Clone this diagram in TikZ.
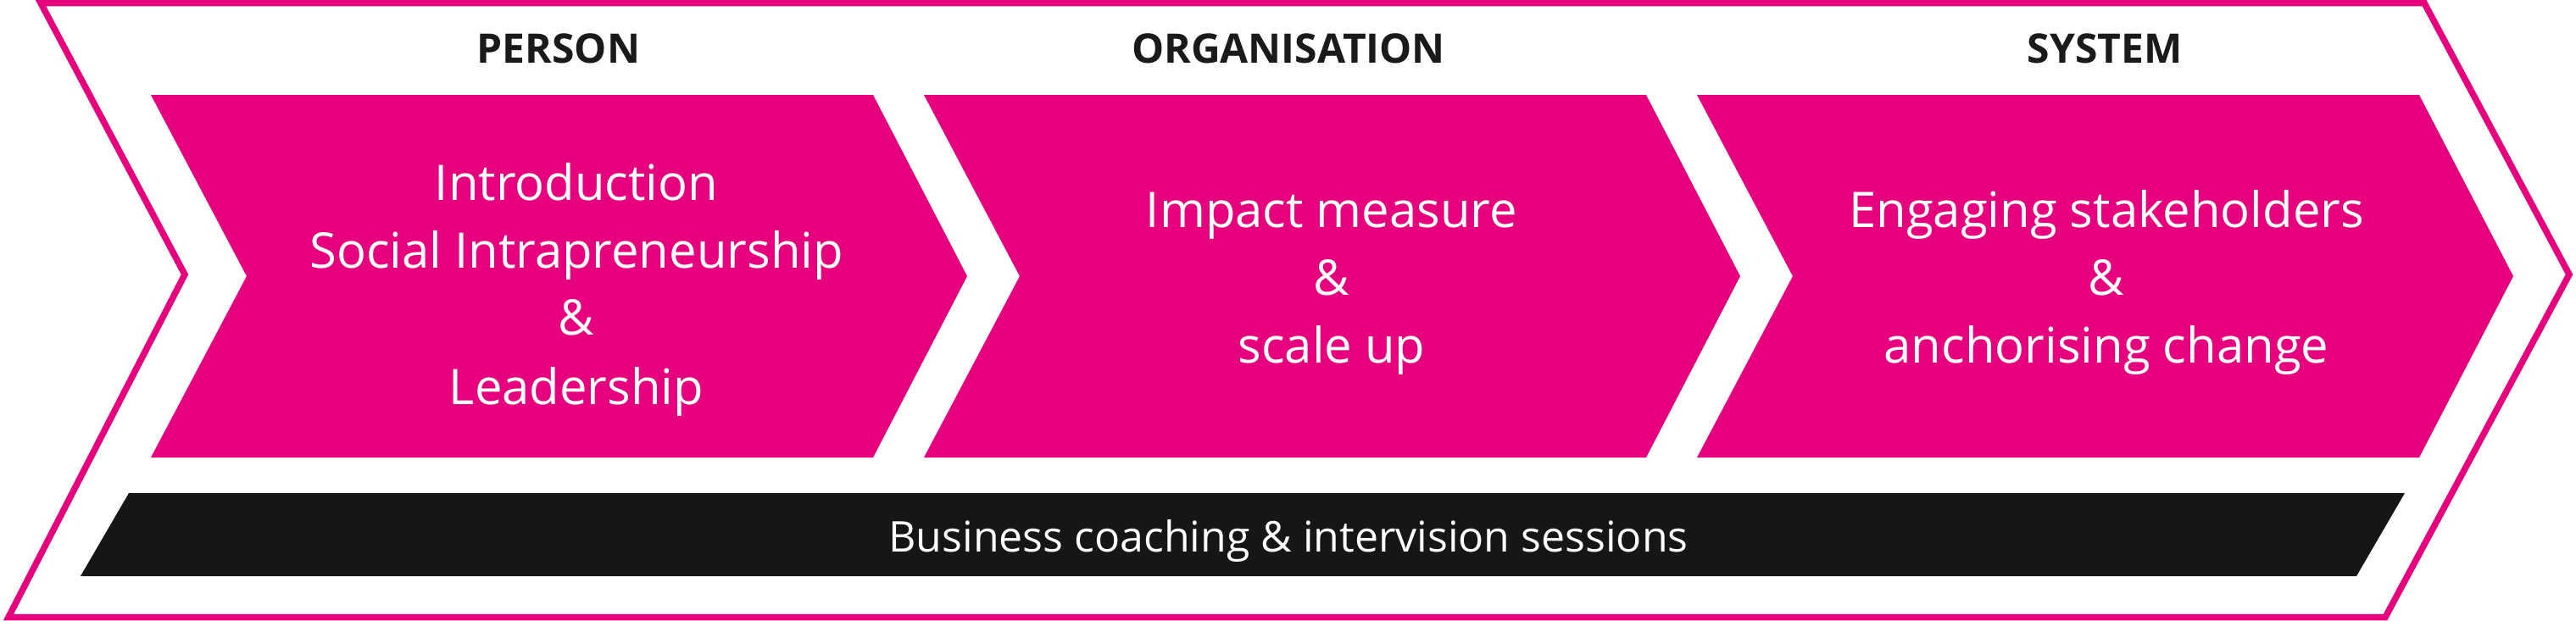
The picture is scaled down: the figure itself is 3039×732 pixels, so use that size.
\documentclass[tikz,border=0pt]{standalone}
\usepackage{fontspec}
\setmainfont{Open Sans}
\definecolor{brandpink}{HTML}{E6007E}
\definecolor{barblack}{HTML}{161616}
\definecolor{headtext}{HTML}{1A1A1A}
\tikzset{
  frameline/.style={draw=brandpink, line width=7.5pt, line join=miter},
  chevronfill/.style={fill=brandpink},
  barfill/.style={fill=barblack},
  bodytext/.style={inner sep=0pt, anchor=base, text=white, font=\fontsize{58}{80}\selectfont},
  headlabel/.style={inner sep=0pt, anchor=base, text=headtext, font=\fontsize{48}{60}\selectfont\bfseries},
  bartext/.style={inner sep=0pt, anchor=base, text=white, font=\fontsize{50}{60}\selectfont},
}
\begin{document}
\begin{tikzpicture}[x=1pt,y=-1pt]
\useasboundingbox (0,0) rectangle (3039,732);
\clip (0,0) rectangle (3039,732);
\fill[white] (0,0) rectangle (3039,732);
% outer frame
\draw[frameline] (48,3.5) -- (2860,3.5) -- (3031,324) -- (2814,728.5) -- (10,728.5) -- (218,324) -- cycle;
% chevrons
\fill[chevronfill] (178,112) -- (1030,112) -- (1141,326) -- (1030,540) -- (178,540) -- (291,326) -- cycle;
\fill[chevronfill] (1090,112) -- (1942,112) -- (2053,326) -- (1942,540) -- (1090,540) -- (1203,326) -- cycle;
\fill[chevronfill] (2002,112) -- (2854,112) -- (2965,326) -- (2854,540) -- (2002,540) -- (2115,326) -- cycle;
% bar
\fill[barfill] (152,582) -- (2837,582) -- (2780,680) -- (95,680) -- cycle;
% headers
\node[headlabel] (hperson) at (659,74) {PERSON};
\node[headlabel] (horg) at (1520,74) {ORGANISATION};
\node[headlabel] (hsys) at (2483,74) {SYSTEM};
% chevron 1 text
\node[bodytext] (p1) at (680,236) {Introduction};
\node[bodytext] (p2) at (680,316) {Social Intrapreneurship};
\node[bodytext] (p3) at (680,395) {\&};
\node[bodytext] (p4) at (680,477) {Leadership};
% chevron 2 text
\node[bodytext] (o1) at (1571,268) {Impact measure};
\node[bodytext] (o2) at (1571,348) {\&};
\node[bodytext] (o3) at (1571,428) {scale up};
% chevron 3 text
\node[bodytext] (s1) at (2485,268) {Engaging stakeholders};
\node[bodytext] (s2) at (2485,348) {\&};
\node[bodytext] (s3) at (2485,428) {anchorising change};
% bar text
\node[bartext] (btext) at (1520,651) {Business coaching \& intervision sessions};
\end{tikzpicture}
\end{document}
